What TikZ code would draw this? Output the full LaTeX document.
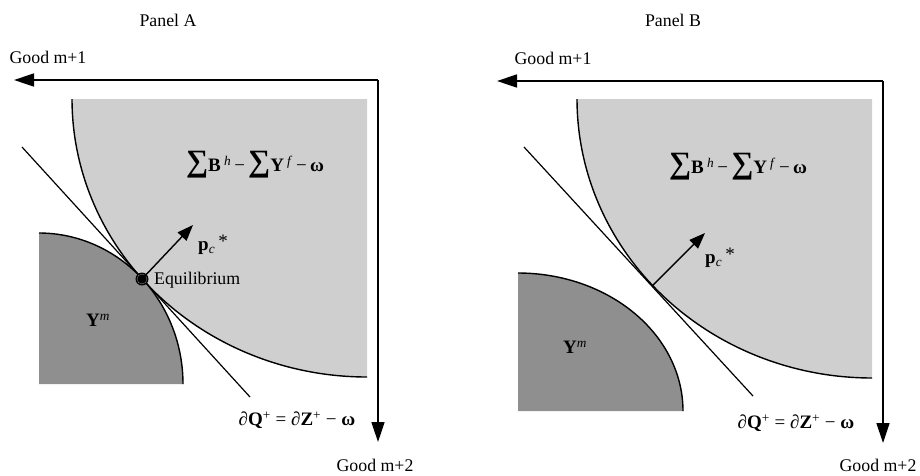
\documentclass[tikz,border=0pt]{standalone}
\usepackage{fontspec}
\setmainfont{Liberation Serif}
\usetikzlibrary{arrows.meta}
\definecolor{lightg}{HTML}{CFCFCF}
\definecolor{darkg}{HTML}{8F8F8F}
\newcommand{\bigsum}{{\fontsize{31}{31}\selectfont\bfseries ∑}}
\newcommand{\sumlabel}{\bigsum\textbf{B}\,\textsuperscript{\textit{h}}\,−\,\bigsum\textbf{Y}\,\textsuperscript{\textit{f}}\,−\,\textbf{ω}}
\newcommand{\qlabel}{\textit{∂}\textbf{Q}\textsuperscript{+} = \textit{∂}\textbf{Z}\textsuperscript{+} − \textbf{ω}}
\newcommand{\plabel}{\textbf{p}\textsubscript{\textit{c}}\,\raisebox{3pt}{*}}
\newcommand{\ylabel}{\textbf{Y}\textsuperscript{\textit{m}}}
\tikzset{
  txt/.style={font=\fontsize{17.8}{20}\selectfont, inner sep=0pt},
  mth/.style={font=\fontsize{19}{21}\selectfont, inner sep=0pt},
  axis/.style={line width=1.5pt, -{Triangle[length=20pt,width=13pt]}},
  curve/.style={line width=1.4pt},
  tline/.style={line width=1.2pt},
  parrow/.style={line width=1.4pt, -{Triangle[length=16pt,width=12pt]}},
}
\begin{document}
\begin{tikzpicture}[x=1pt,y=-1pt]
\useasboundingbox (0,0) rectangle (920,475);
% ---------- Panel A ----------
\fill[lightg] (367,99) -- plot[domain=0:90,samples=80,smooth] ({367-295*cos(\x)},{99+278*sin(\x)}) -- cycle;
\draw[curve] plot[domain=0:90,samples=80,smooth] ({367-295*cos(\x)},{99+278*sin(\x)});
\fill[darkg] (39,384) -- plot[domain=0:90,samples=80,smooth] ({39+144*sin(\x)},{384-151*cos(\x)}) -- cycle;
\draw[curve] plot[domain=0:90,samples=80,smooth] ({39+144*sin(\x)},{384-151*cos(\x)});
\coordinate (a1) at (22,147);
\coordinate (a2) at (250,397);
\draw[tline] (a1) -- (a2);
\coordinate (acorner) at (378,80);
\coordinate (ax) at (14,80);
\coordinate (ay) at (378,442);
\draw[axis] (acorner) -- (ax);
\draw[axis] (acorner) -- (ay);
\node[circle, fill=black, minimum size=13pt, inner sep=0pt] (eq) at (142,279) {};
\draw[gray, line width=0.4pt] (eq.center) circle[radius=5];
\coordinate (ap) at (193,225);
\draw[parrow] (eq.center) -- (ap);
\node[txt] (pa) at (168,20) {Panel A};
\node[txt] (ga1) at (48,57) {Good m+1};
\node[txt] (ga2) at (375,465) {Good m+2};
\node[mth] (sa) at (255,165) {\sumlabel};
\node[mth] (qa) at (297,420) {\qlabel};
\node[mth, anchor=west] (pca) at (198,245) {\plabel};
\node[mth] (ya) at (98,320) {\ylabel};
\node[txt, anchor=west] (eqt) at (154,280) {Equilibrium};
% ---------- Panel B ----------
\fill[lightg] (872,99) -- plot[domain=0:90,samples=80,smooth] ({872-295*cos(\x)},{99+279*sin(\x)}) -- cycle;
\draw[curve] plot[domain=0:90,samples=80,smooth] ({872-295*cos(\x)},{99+279*sin(\x)});
\fill[darkg] (518,411) -- plot[domain=0:90,samples=80,smooth] ({518+165*sin(\x)},{411-138*cos(\x)}) -- cycle;
\draw[curve] plot[domain=0:90,samples=80,smooth] ({518+165*sin(\x)},{411-138*cos(\x)});
\coordinate (b1) at (524,147);
\coordinate (b2) at (753,396);
\draw[tline] (b1) -- (b2);
\coordinate (bcorner) at (883,81);
\coordinate (bx) at (497,81);
\coordinate (by) at (883,443);
\draw[axis] (bcorner) -- (bx);
\draw[axis] (bcorner) -- (by);
\coordinate (bt) at (652,286);
\coordinate (bp) at (705,233);
\draw[parrow] (bt) -- (bp);
\node[txt] (pb) at (673,20) {Panel B};
\node[txt] (gb1) at (553,58) {Good m+1};
\node[txt] (gb2) at (878,465) {Good m+2};
\node[mth] (sb) at (738,167) {\sumlabel};
\node[mth] (qb) at (796,423) {\qlabel};
\node[mth, anchor=west] (pcb) at (705,258) {\plabel};
\node[mth] (yb) at (575,347) {\ylabel};
\end{tikzpicture}
\end{document}
